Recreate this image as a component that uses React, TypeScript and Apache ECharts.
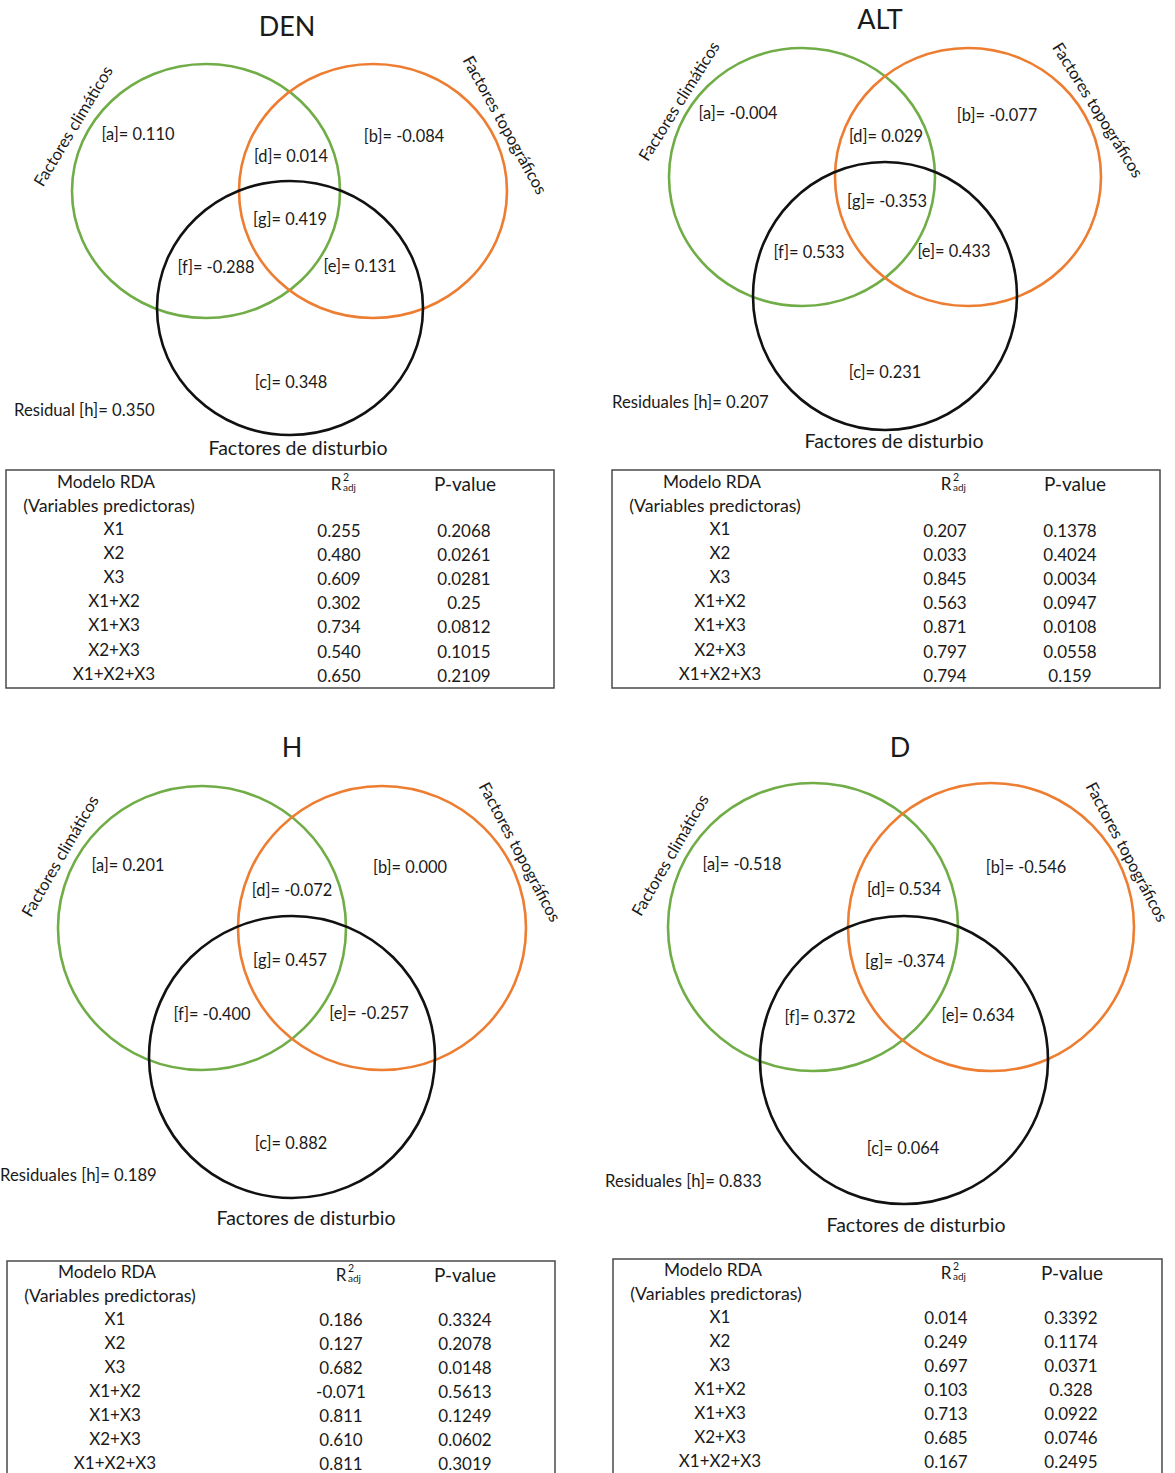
import React, { useEffect, useRef } from "react";
import * as echarts from "echarts";

// ---------------- DATA ----------------
const panelTitles = ["DEN", "ALT", "H", "D"];
const regionKeys = ["a", "b", "d", "g", "f", "e", "c"];
const denRegions = [0.11, -0.084, 0.014, 0.419, -0.288, 0.131, 0.348];
const altRegions = [-0.004, -0.077, 0.029, -0.353, 0.533, 0.433, 0.231];
const hRegions = [0.201, 0.0, -0.072, 0.457, -0.4, -0.257, 0.882];
const dRegions = [-0.518, -0.546, 0.534, -0.374, 0.372, 0.634, 0.064];
const residualValues = [0.35, 0.207, 0.189, 0.833];
const residualLabels = ["Residual", "Residuales", "Residuales", "Residuales"];
const setNames = ["Factores climáticos", "Factores topográficos", "Factores de disturbio"];

const modelLabels = ["X1", "X2", "X3", "X1+X2", "X1+X3", "X2+X3", "X1+X2+X3"];
const denR2 = [0.255, 0.48, 0.609, 0.302, 0.734, 0.54, 0.65];
const denP = [0.2068, 0.0261, 0.0281, 0.25, 0.0812, 0.1015, 0.2109];
const altR2 = [0.207, 0.033, 0.845, 0.563, 0.871, 0.797, 0.794];
const altP = [0.1378, 0.4024, 0.0034, 0.0947, 0.0108, 0.0558, 0.159];
const hR2 = [0.186, 0.127, 0.682, -0.071, 0.811, 0.61, 0.811];
const hP = [0.3324, 0.2078, 0.0148, 0.5613, 0.1249, 0.0602, 0.3019];
const dR2 = [0.014, 0.249, 0.697, 0.103, 0.713, 0.685, 0.167];
const dP = [0.3392, 0.1174, 0.0371, 0.328, 0.0922, 0.0746, 0.2495];

const regionSets = [denRegions, altRegions, hRegions, dRegions];
const r2Sets = [denR2, altR2, hR2, dR2];
const pSets = [denP, altP, hP, dP];

// ---------------- LAYOUT ----------------
const W = 1175;
const H = 1473;
const FONT = "Lato, 'Open Sans', sans-serif";
const GREEN = "#70AD47";
const ORANGE = "#ED7D31";
const BLACK = "#111111";
const TEXT = "#1a1a1a";

const layouts = [
  {
    title: [287, 25],
    circles: [[206, 191, 134, 127], [373, 191, 134, 127], [290, 308, 133, 127]],
    regions: [[138, 133], [404, 135], [291, 155], [290, 218], [216, 266], [360, 265], [291, 381]],
    clim: [73, 126, 59], topo: [505, 125, -61], dist: [298, 447], resid: [14, 410],
    box: [6, 470, 554, 688], modelo: [106, 481], varpred: [109, 505], r2: [340, 483], pval: [465, 483],
    labelX: 114, rX: 339, pX: 464, rowY0: 528, step: 24.2, vOff: 2,
  },
  {
    title: [880, 18],
    circles: [[802, 177, 133, 129], [968, 177, 133, 129], [885, 296, 132, 134]],
    regions: [[738, 112], [997, 114], [886, 135], [887, 200], [809, 251], [954, 250], [885, 371]],
    clim: [679, 101, 58], topo: [1098, 110, -58], dist: [894, 440], resid: [612, 402],
    box: [612, 470, 1160, 688], modelo: [712, 481], varpred: [715, 505], r2: [950, 483], pval: [1075, 483],
    labelX: 720, rX: 945, pX: 1070, rowY0: 528, step: 24.2, vOff: 2,
  },
  {
    title: [292, 746],
    circles: [[202, 928, 144, 142], [382, 928, 144, 142], [292, 1057, 143, 141]],
    regions: [[128, 864], [410, 866], [292, 889], [290, 959], [212, 1013], [369, 1012], [291, 1142]],
    clim: [60, 856, 60], topo: [520, 852, -62], dist: [306, 1217], resid: [0, 1175],
    box: [7, 1261, 555, 1490], modelo: [107, 1271], varpred: [110, 1295], r2: [345, 1274], pval: [465, 1274],
    labelX: 115, rX: 341, pX: 465, rowY0: 1318, step: 24.0, vOff: 1,
  },
  {
    title: [900, 746],
    circles: [[813, 927, 145, 144], [991, 927, 143, 144], [904, 1060, 144, 144]],
    regions: [[742, 863], [1026, 866], [904, 888], [905, 960], [820, 1016], [978, 1014], [903, 1147]],
    clim: [670, 855, 60], topo: [1127, 852, -62], dist: [916, 1224], resid: [605, 1181],
    box: [613, 1259, 1162, 1490], modelo: [713, 1269], varpred: [716, 1293], r2: [950, 1272], pval: [1072, 1272],
    labelX: 720, rX: 946, pX: 1071, rowY0: 1316, step: 24.1, vOff: 1,
  },
];

type TextSpec = { x: number; y: number; text: string; size: number; align: string; rot: number };

function buildTexts(): TextSpec[] {
  const out: TextSpec[] = [];
  layouts.forEach((L, i) => {
    out.push({ x: L.title[0], y: L.title[1], text: panelTitles[i], size: 27, align: "center", rot: 0 });
    out.push({ x: L.clim[0], y: L.clim[1], text: setNames[0], size: 16.5, align: "center", rot: L.clim[2] });
    out.push({ x: L.topo[0], y: L.topo[1], text: setNames[1], size: 16.5, align: "center", rot: L.topo[2] });
    out.push({ x: L.dist[0], y: L.dist[1], text: setNames[2], size: 19.5, align: "center", rot: 0 });
    regionSets[i].forEach((v, k) => {
      out.push({ x: L.regions[k][0], y: L.regions[k][1], text: `[${regionKeys[k]}]= ${v.toFixed(3)}`, size: 16.4, align: "center", rot: 0 });
    });
    out.push({ x: L.resid[0], y: L.resid[1], text: `${residualLabels[i]} [h]= ${residualValues[i].toFixed(3)}`, size: 16.7, align: "left", rot: 0 });
    // table
    out.push({ x: L.modelo[0], y: L.modelo[1], text: "Modelo RDA", size: 17.3, align: "center", rot: 0 });
    out.push({ x: L.varpred[0], y: L.varpred[1], text: "(Variables predictoras)", size: 17.8, align: "center", rot: 0 });
    out.push({ x: L.r2[0] - 4, y: L.r2[1], text: "R", size: 17, align: "center", rot: 0 });
    out.push({ x: L.r2[0] + 3, y: L.r2[1] - 6, text: "2", size: 10.5, align: "left", rot: 0 });
    out.push({ x: L.r2[0] + 3, y: L.r2[1] + 4, text: "adj", size: 10, align: "left", rot: 0 });
    out.push({ x: L.pval[0], y: L.pval[1], text: "P-value", size: 19, align: "center", rot: 0 });
    modelLabels.forEach((m, r) => {
      const y = L.rowY0 + r * L.step;
      out.push({ x: L.labelX, y, text: m, size: 17, align: "center", rot: 0 });
      out.push({ x: L.rX, y: y + L.vOff, text: r2Sets[i][r].toFixed(3), size: 17, align: "center", rot: 0 });
      out.push({ x: L.pX, y: y + L.vOff, text: String(pSets[i][r]), size: 17, align: "center", rot: 0 });
    });
  });
  return out;
}

const circleColors = [GREEN, ORANGE, BLACK];

export default function App() {
  const ref = useRef<HTMLDivElement>(null);
  useEffect(() => {
    if (!ref.current) return;
    const chart = echarts.init(ref.current, null, { renderer: "svg" });
    const texts = buildTexts();
    const circleData: number[][] = [];
    layouts.forEach((L) => L.circles.forEach((c, k) => circleData.push([c[0], c[1], c[2], c[3], k])));
    const boxData = layouts.map((L) => L.box);

    chart.setOption({
      animation: false,
      backgroundColor: "#ffffff",
      grid: { left: 0, right: 0, top: 0, bottom: 0, containLabel: false },
      xAxis: { type: "value", min: 0, max: W, show: false },
      yAxis: { type: "value", min: 0, max: H, inverse: true, show: false },
      series: [
        {
          type: "custom",
          name: "tables",
          data: boxData,
          encode: { x: [0, 2], y: [1, 3] },
          renderItem: (params: any, api: any) => {
            const p0 = api.coord([api.value(0), api.value(1)]);
            const p1 = api.coord([api.value(2), api.value(3)]);
            return {
              type: "rect",
              shape: { x: p0[0], y: p0[1], width: p1[0] - p0[0], height: p1[1] - p0[1] },
              style: { fill: "none", stroke: "#4a4a4a", lineWidth: 1.5 },
            };
          },
        },
        {
          type: "custom",
          name: "circles",
          data: circleData,
          encode: { x: 0, y: 1 },
          renderItem: (params: any, api: any) => {
            const c = api.coord([api.value(0), api.value(1)]);
            const rx = Math.abs(api.size([api.value(2), 0])[0]);
            const ry = Math.abs(api.size([0, api.value(3)])[1]);
            return {
              type: "ellipse",
              shape: { cx: c[0], cy: c[1], rx, ry },
              style: { fill: "none", stroke: circleColors[api.value(4)], lineWidth: 2.6 },
            };
          },
        },
        {
          type: "custom",
          name: "texts",
          data: texts.map((t) => [t.x, t.y]),
          encode: { x: 0, y: 1 },
          renderItem: (params: any, api: any) => {
            const t = texts[params.dataIndex];
            const p = api.coord([api.value(0), api.value(1)]);
            return {
              type: "text",
              x: p[0],
              y: p[1],
              rotation: (t.rot * Math.PI) / 180,
              style: {
                text: t.text,
                fontSize: t.size,
                fontFamily: FONT,
                fill: TEXT,
                align: t.align,
                verticalAlign: "middle",
              },
            };
          },
        },
      ],
    });
    return () => chart.dispose();
  }, []);
  return (
    <div
      ref={ref}
      style={{ position: "absolute", left: 0, top: 0, width: W, height: H, background: "#fff" }}
    />
  );
}
